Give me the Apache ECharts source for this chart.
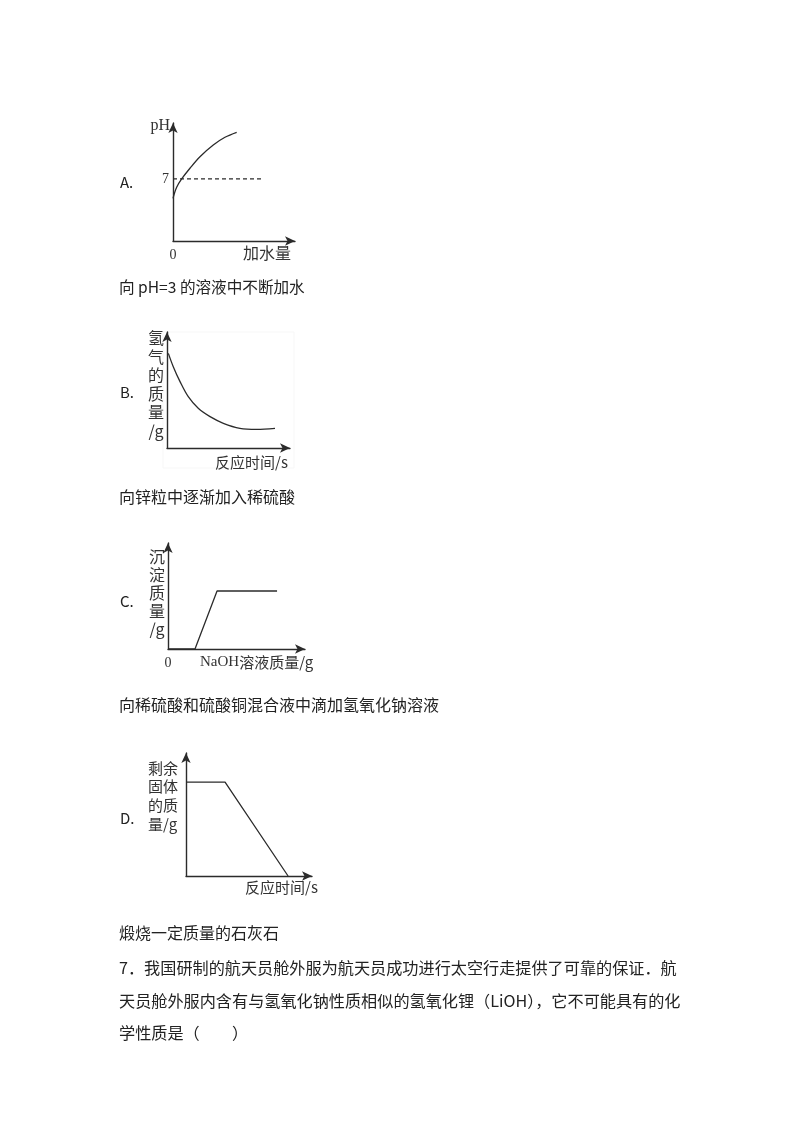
<!DOCTYPE html>
<html><head><meta charset="utf-8">
<script src="https://cdn.jsdelivr.net/npm/echarts@6/dist/echarts.min.js"></script>
<style>html,body{margin:0;padding:0;background:#fff}#c{width:800px;height:1132px}</style>
</head><body><div id="c"></div>
<script>
// A: pH vs added water
const phX = [0, 0.30, 0.71, 1.39, 2.21, 3.30, 4.26, 5.22];
const phY = [4.81, 6.05, 6.99, 8.20, 9.50, 10.82, 11.69, 12.25];
const neutralX = [0, 7.3];
const neutralPH = 7;
// B: hydrogen mass vs time
const h2X = [0.11, 0.51, 1.06, 1.73, 2.54, 3.50, 4.58, 5.93, 7.29, 8.78];
const h2Y = [8.16, 7.01, 5.72, 4.42, 3.42, 2.70, 2.13, 1.70, 1.61, 1.70];
// C: precipitate mass vs NaOH solution mass
const precipX = [0, 1.97, 3.58, 7.96];
const precipY = [0, 0, 5.47, 5.47];
// D: remaining solid mass vs time
const solidX = [0, 3.10, 8.10];
const solidY = [7.64, 7.64, 0];
// tick labels
const yTickLabelsA = ['7'];
const xOriginLabel = '0';

const labelsA = {letter: 'A.', yName: 'pH', xName: '加水量'};
const labelsB = {letter: 'B.', yName: ['氢','气','的','质','量','/g'], xName: '反应时间/s'};
const labelsC = {letter: 'C.', yName: ['沉','淀','质','量','/g'], xName: 'NaOH溶液质量/g'};
const labelsD = {letter: 'D.', yName: ['剩余','固体','的质','量/g'], xName: '反应时间/s'};
const captions = ['向 pH=3 的溶液中不断加水', '向锌粒中逐渐加入稀硫酸', '向稀硫酸和硫酸铜混合液中滴加氢氧化钠溶液', '煅烧一定质量的石灰石'];
const questionLines = [
  '7．我国研制的航天员舱外服为航天员成功进行太空行走提供了可靠的保证．航',
  '天员舱外服内含有与氢氧化钠性质相似的氢氧化锂（LiOH），它不可能具有的化',
  '学性质是（　　）'
];

const pairs = (xs, ys) => xs.map((x, i) => [x, ys[i]]);
const AX = '#2b2b2b';
const CJK = '"Noto Sans CJK SC", "Noto Sans", sans-serif';
const SERIF = '"Liberation Serif", "DejaVu Serif", serif';

const grids = [
  {left: 173, top: 123, width: 122, height: 118},
  {left: 167, top: 332, width: 123, height: 116},
  {left: 168, top: 543, width: 137, height: 106},
  {left: 186, top: 753, width: 126, height: 123}
];

function axisLine() {
  return {show: true, onZero: false, symbol: ['none', 'arrow'], symbolSize: [7, 10],
    lineStyle: {color: AX, width: 1.4}};
}
function xAxis(i, showZero) {
  return {type: 'value', gridIndex: i, min: 0, max: 10, interval: 10,
    axisLine: axisLine(), axisTick: {show: false}, splitLine: {show: false},
    axisLabel: {show: showZero, margin: 7, color: '#333', fontFamily: SERIF, fontSize: 14,
      formatter: v => (v === 0 ? xOriginLabel : '')}};
}
function yAxis(i, opts) {
  return Object.assign({type: 'value', gridIndex: i, min: 0, max: 10,
    axisLine: axisLine(), axisTick: {show: false}, splitLine: {show: false},
    axisLabel: {show: false}}, opts || {});
}

const lineStyle = {color: AX, width: 1.3};
const series = [
  {type: 'line', xAxisIndex: 0, yAxisIndex: 0, data: pairs(phX, phY), smooth: 0.35,
    showSymbol: false, lineStyle, silent: true},
  {type: 'line', xAxisIndex: 0, yAxisIndex: 0, data: neutralX.map(x => [x, neutralPH]),
    showSymbol: false, lineStyle: {color: AX, width: 1.2, type: [4, 3]}, silent: true},
  {type: 'line', xAxisIndex: 1, yAxisIndex: 1, data: pairs(h2X, h2Y), smooth: 0.35,
    showSymbol: false, lineStyle, silent: true},
  {type: 'line', xAxisIndex: 2, yAxisIndex: 2, data: pairs(precipX, precipY),
    showSymbol: false, lineStyle, silent: true},
  {type: 'line', xAxisIndex: 3, yAxisIndex: 3, data: pairs(solidX, solidY),
    showSymbol: false, lineStyle, silent: true}
];

function txt(text, x, y, o) {
  o = o || {};
  return {type: 'text', x: x, y: y, silent: true, style: Object.assign({
    text: text, fill: o.fill || '#222', fontSize: o.size || 16, fontFamily: o.family || CJK,
    align: o.align || 'left', verticalAlign: 'middle'}, o.extra || {})};
}
function vstack(chars, x, y0, step, o) {
  return chars.map((c, i) => txt(c, x, y0 + i * step, Object.assign({align: 'center', fill: '#333'}, o || {})));
}

const graphic = [
  {type: 'rect', shape: {x: 163, y: 332, width: 131, height: 136}, silent: true,
    style: {fill: 'none', stroke: '#f7f7f7', lineWidth: 1}},
  // A
  txt(labelsA.letter, 120, 182, {size: 15}),
  txt(labelsA.yName, 170, 126, {align: 'right', family: SERIF, size: 16, fill: '#333'}),
  txt(labelsA.xName, 243, 253, {size: 16, fill: '#333'}),
  txt(captions[0], 119, 287, {size: 15.6}),
  // B
  txt(labelsB.letter, 120, 392, {size: 15}),
  ...vstack(labelsB.yName, 156, 338, 18.6, {size: 16}),
  txt(labelsB.xName, 215, 462, {size: 15, fill: '#333'}),
  txt(captions[1], 119, 497),
  // C
  txt(labelsC.letter, 120, 601, {size: 15}),
  ...vstack(labelsC.yName, 157, 557, 18.1, {size: 16}),
  {type: 'text', x: 200, y: 662, silent: true, style: {
    text: '{s|NaOH}溶液质量/g', fill: '#333', fontSize: 15, fontFamily: CJK,
    align: 'left', verticalAlign: 'middle',
    rich: {s: {fontFamily: SERIF, fontSize: 15, fill: '#333'}}}},
  txt(captions[2], 119, 705),
  // D
  txt(labelsD.letter, 120, 818, {size: 15}),
  ...labelsD.yName.map((c, i) => txt(c, 148, 768 + i * 18.6, {size: 15, fill: '#333'})),
  txt(labelsD.xName, 245, 887, {size: 15, fill: '#333'}),
  txt(captions[3], 119, 933),
  // question text
  ...questionLines.map((l, i) => txt(l, 119, 968 + i * 32.5, {size: 16.15}))
];

const chart = echarts.init(document.getElementById('c'), null, {renderer: 'canvas'});
chart.setOption({
  backgroundColor: '#fff',
  animation: false,
  grid: grids,
  xAxis: [xAxis(0, true), xAxis(1, false), xAxis(2, true), xAxis(3, false)],
  yAxis: [
    yAxis(0, {max: 13.3, interval: 7, axisLabel: {show: true, margin: 4, color: '#333',
      fontFamily: SERIF, fontSize: 14, formatter: v => (v === neutralPH ? yTickLabelsA[0] : '')}}),
    yAxis(1), yAxis(2), yAxis(3)
  ],
  series: series,
  graphic: graphic
});
</script>
</body></html>
